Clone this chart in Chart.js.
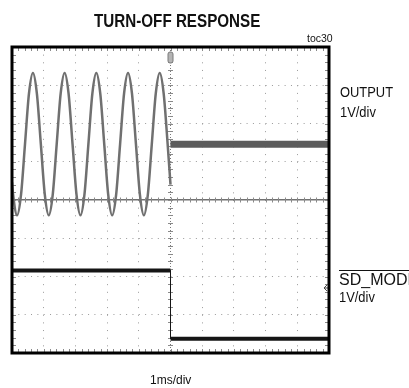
<!DOCTYPE html>
<html lang="en">

<head>
    <meta charset="UTF-8">
    <title>Turn-off response</title>
    <script src="https://cdn.jsdelivr.net/npm/chart.js@4.4.1/dist/chart.umd.min.js"></script>
    <style>
        body { margin: 0; background: #fff; }
        #wrap { position: relative; width: 409px; height: 388px; overflow: hidden; }
        .lbl { position: absolute; line-height: 1; white-space: nowrap; color: #111;
               font-family: "Liberation Sans", Arial, sans-serif; transform-origin: 0 0; }
        /* condensed look for the scope captions */
        .cond { transform: scaleX(0.86); }
    </style>
</head>

<body>
    <div id="wrap">
        <canvas id="scope" width="409" height="388"></canvas>
        <div class="lbl" style="left:94px; top:10.5px; font-size:19px; font-weight:bold; transform:scaleX(0.8);">TURN-OFF RESPONSE</div>
        <div class="lbl" style="left:307px; top:33px; font-size:10.5px;">toc30</div>
        <div class="lbl cond" style="left:340px; top:84px; font-size:15px;">OUTPUT</div>
        <div class="lbl cond" style="left:340px; top:104px; font-size:15px;">1V/div</div>
        <div class="lbl" style="left:339px; top:272px; font-size:16px; text-decoration:overline;">SD_MODE</div>
        <div class="lbl cond" style="left:339px; top:289px; font-size:15px;">1V/div</div>
        <div class="lbl" style="left:150px; top:374px; font-size:12px;">1ms/div</div>
    </div>

    <script>
        // time in divisions (1ms/div), levels in divisions (1V/div)
        const outputT = [0, 0.035, 0.16, 0.285, 0.41, 0.535, 0.66, 0.785, 0.91,
            1.035, 1.16, 1.285, 1.41, 1.535, 1.66, 1.785, 1.91,
            2.035, 2.16, 2.285, 2.41, 2.535, 2.66, 2.785, 2.91,
            3.035, 3.16, 3.285, 3.41, 3.535, 3.66, 3.785, 3.91,
            4.035, 4.16, 4.285, 4.41, 4.535, 4.66, 4.785, 4.91, 5.0];
        const outputV = [0.46, 0.14, -0.40, 0.14, 1.46, 2.78, 3.32, 2.78, 1.46,
            0.14, -0.40, 0.14, 1.46, 2.78, 3.32, 2.78, 1.46,
            0.14, -0.40, 0.14, 1.46, 2.78, 3.32, 2.78, 1.46,
            0.14, -0.40, 0.14, 1.46, 2.78, 3.32, 2.78, 1.46,
            0.14, -0.40, 0.14, 1.46, 2.78, 3.32, 2.78, 1.46, 0.40];

        // output after shutdown
        const mutedT = [5, 10];
        const mutedV = [1.46, 1.46];

        // SD_MODE logic trace
        const sdT = [0, 5, 5, 10];
        const sdV = [-1.84, -1.84, -3.63, -3.63];

        const trigPos = 5;      // trigger marker, top edge
        const ch2Marker = -2.3; // channel 2 marker, right edge

        const pts = (ts, vs) => ts.map((t, i) => ({ x: t, y: vs[i] }));

        // minor ticks every 0.2 div on the edges and centre lines
        const graticule = {
            id: 'graticule',
            beforeDatasetsDraw(chart) {
                const { ctx, chartArea: a, scales: { x, y } } = chart;
                const cx = x.getPixelForValue(5);
                const cy = y.getPixelForValue(0);
                ctx.save();
                ctx.strokeStyle = '#8a8a8a';
                ctx.lineWidth = 1;
                ctx.beginPath();
                for (let i = 1; i < 50; i++) {
                    const px = Math.round(x.getPixelForValue(i / 5)) + 0.5;
                    ctx.moveTo(px, a.top); ctx.lineTo(px, a.top + 4);
                    ctx.moveTo(px, a.bottom); ctx.lineTo(px, a.bottom - 4);
                    ctx.moveTo(px, cy - 2.5); ctx.lineTo(px, cy + 2.5);
                }
                for (let i = 1; i < 40; i++) {
                    const py = Math.round(y.getPixelForValue(-4 + i / 5)) + 0.5;
                    ctx.moveTo(a.left, py); ctx.lineTo(a.left + 4, py);
                    ctx.moveTo(a.right, py); ctx.lineTo(a.right - 4, py);
                    ctx.moveTo(cx - 2.5, py); ctx.lineTo(cx + 2.5, py);
                }
                ctx.stroke();
                ctx.restore();
            },
            afterDatasetsDraw(chart) {
                const { ctx, chartArea: a, scales: { x, y } } = chart;
                ctx.save();
                // trigger position marker
                const tx = x.getPixelForValue(trigPos);
                ctx.fillStyle = '#b4b4b4';
                ctx.strokeStyle = '#7a7a7a';
                ctx.beginPath();
                ctx.roundRect(tx - 2.5, a.top + 5, 5, 11, 2);
                ctx.fill();
                ctx.stroke();
                // channel 2 marker
                const my = y.getPixelForValue(ch2Marker);
                ctx.strokeStyle = '#444';
                ctx.lineWidth = 1;
                ctx.beginPath();
                ctx.moveTo(a.right - 2, my - 3); ctx.lineTo(a.right - 5, my); ctx.lineTo(a.right - 2, my + 3);
                ctx.moveTo(a.right - 5, my); ctx.lineTo(a.right - 1, my);
                ctx.stroke();
                // frame
                ctx.strokeStyle = '#000';
                ctx.lineWidth = 3;
                ctx.strokeRect(a.left, a.top, a.right - a.left, a.bottom - a.top);
                ctx.restore();
            }
        };

        const ctx = document.getElementById('scope').getContext('2d');
        new Chart(ctx, {
            type: 'line',
            data: {
                datasets: [{
                    label: 'SD_MODE',
                    data: pts(sdT, sdV),
                    borderColor: '#151515',
                    borderWidth: 4,
                    segment: {
                        borderWidth: s => s.p0.parsed.x === s.p1.parsed.x ? 1 : 4
                    }
                }, {
                    label: 'OUTPUT muted',
                    data: pts(mutedT, mutedV),
                    borderColor: '#5c5c5c',
                    borderWidth: 7
                }, {
                    label: 'OUTPUT muted core',
                    data: pts(mutedT, mutedV),
                    borderColor: '#9a9a9a',
                    borderWidth: 3
                }, {
                    label: 'OUTPUT',
                    data: pts(outputT, outputV),
                    borderColor: '#707070',
                    borderWidth: 2.5,
                    cubicInterpolationMode: 'monotone'
                }]
            },
            options: {
                responsive: false,
                animation: false,
                layout: { padding: { left: 12, top: 47, right: 80, bottom: 35 } },
                plugins: { legend: { display: false }, tooltip: { enabled: false } },
                elements: { point: { radius: 0 }, line: { borderCapStyle: 'butt' } },
                scales: {
                    x: {
                        type: 'linear', min: 0, max: 10,
                        ticks: { display: false, stepSize: 1 },
                        grid: {
                            drawTicks: false,
                            color: c => c.tick && c.tick.value === 5 ? '#7a7a7a' : '#9a9a9a'
                        },
                        border: {
                            display: false,
                            dash: c => c.tick && c.tick.value === 5 ? [1, 2] : [1, 6.65]
                        }
                    },
                    y: {
                        min: -4, max: 4,
                        ticks: { display: false, stepSize: 1 },
                        grid: {
                            drawTicks: false,
                            color: c => c.tick && c.tick.value === 0 ? '#707070' : '#9a9a9a',
                            lineWidth: c => c.tick && c.tick.value === 0 ? 1.5 : 1
                        },
                        border: {
                            display: false,
                            dash: c => c.tick && c.tick.value === 0 ? [] : [1, 5.34]
                        }
                    }
                }
            },
            plugins: [graticule]
        });
    </script>
</body>

</html>
